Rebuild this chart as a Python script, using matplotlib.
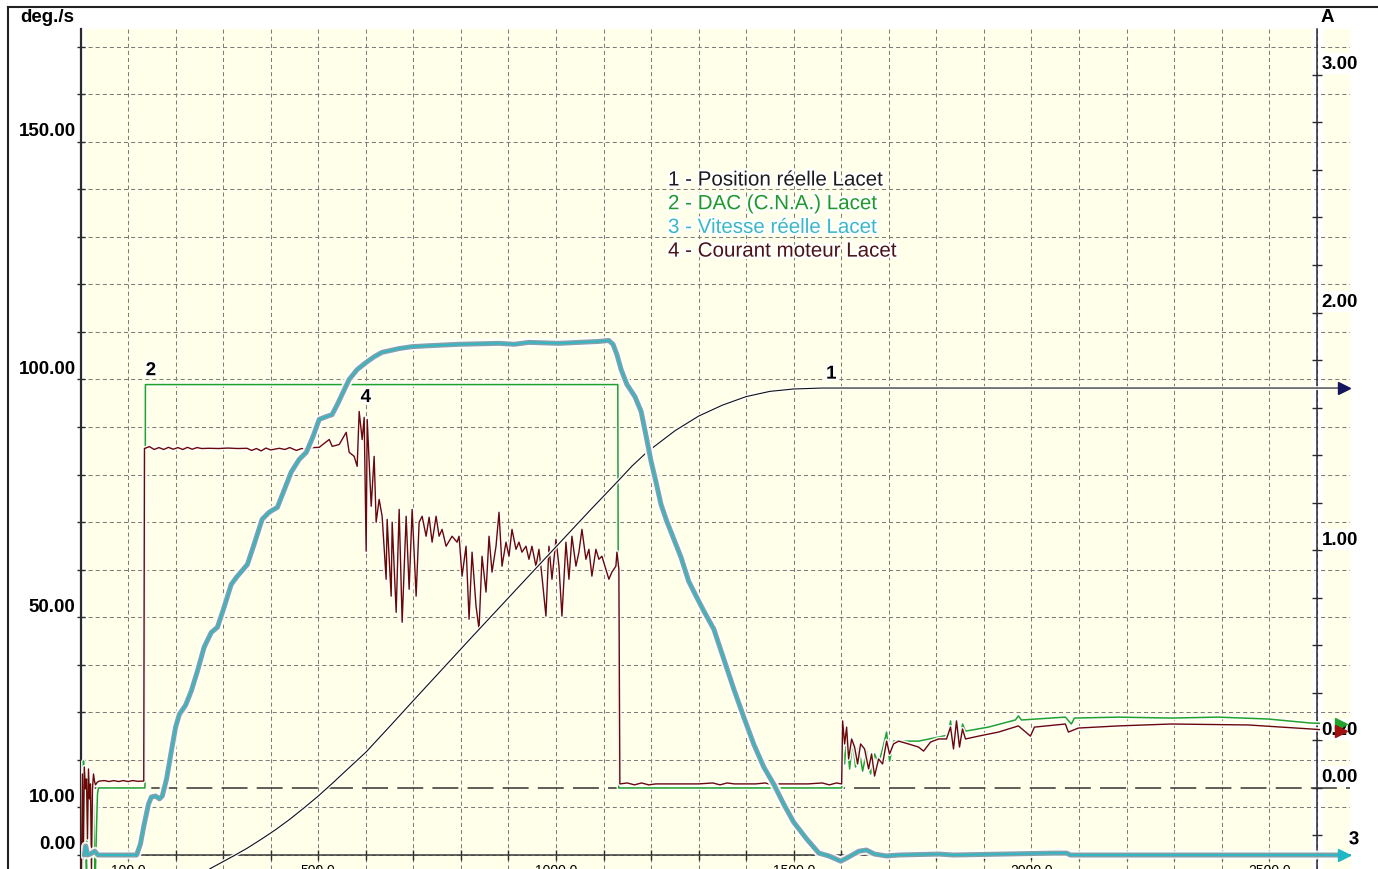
import matplotlib
matplotlib.use("Agg")
import matplotlib.pyplot as plt
import matplotlib.patheffects as pe
from matplotlib.lines import Line2D
import numpy as np

plt.rcParams['font.family'] = ['Liberation Sans', 'DejaVu Sans']

W, H, DPI = 1378, 870, 100

# ---------------------------------------------------------------- data
# time in ms, shared by all four channels

# 1 - Position reelle Lacet (deg)
pos_t = [272, 296, 320, 350, 380, 410, 440, 470, 500, 530, 560, 600, 650, 703,
         821, 943, 1069, 1132, 1160, 1191, 1250, 1300, 1350, 1400, 1450, 1500,
         1560, 2658]
pos_v = [-2.9, -1.6, -0.3, 1.4, 3.3, 5.3, 7.5, 9.9, 12.4, 15.1, 17.9, 21.6,
         27.0, 32.8, 45.6, 58.7, 72.2, 78.8, 81.8, 84.7, 89.2, 92.3, 94.6,
         96.4, 97.5, 98.0, 98.2, 98.2]

# 3 - Vitesse reelle Lacet (deg/s)
vel_t = [8, 11, 15, 24, 30, 37, 118, 126, 134, 143, 149, 158, 166, 172, 181,
         191, 200, 208, 221, 233, 246, 260, 275, 288, 302, 317, 328, 351, 365,
         382, 397, 414, 429, 443, 460, 475, 489, 502, 517, 529, 540, 548, 565,
         582, 601, 618, 634, 670, 697, 733, 796, 880, 912, 943, 1006, 1048,
         1090, 1111, 1120, 1128, 1137, 1149, 1166, 1179, 1189, 1200, 1210, 1221,
         1233, 1248, 1263, 1279, 1296, 1311, 1332, 1353, 1374, 1395, 1416, 1437,
         1458, 1479, 1500, 1527, 1553, 1574, 1599, 1616, 1637, 1653, 1670, 1695,
         1721, 1805, 1836, 2046, 2074, 2082, 2658]
vel_v = [0, 1.9, 0, 0.4, 0.8, 0, 0, 2.3, 6.5, 10.7, 12.2, 12.4, 11.8, 12.4,
         16.0, 21.8, 26.9, 29.6, 31.5, 34.5, 38.7, 43.7, 46.8, 47.9, 52.1, 56.9,
         58.4, 61.1, 65.3, 70.6, 72.1, 73.1, 76.9, 80.5, 83.2, 84.7, 88.0, 91.6,
         92.2, 92.6, 94.7, 96.4, 100.0, 102.1, 103.6, 104.8, 105.7, 106.5, 106.9,
         107.1, 107.4, 107.6, 107.4, 107.8, 107.6, 107.8, 108.0, 108.2, 107.4,
         105.3, 102.1, 99.0, 96.4, 93.3, 88.4, 82.8, 78.6, 73.7, 70.2, 66.4, 62.6,
         57.6, 54.2, 51.3, 47.5, 41.2, 34.9, 29.0, 23.3, 18.5, 14.9, 10.7, 6.9,
         3.4, 0.4, -0.2, -1.3, -0.4, 0.8, 1.05, 0.2, -0.2, 0, 0.2, 0, 0.4, 0.4,
         0, 0]

# 2 - DAC (C.N.A.) Lacet (A)
dac_t = [2, 4.2, 6.3, 8.4, 10.5, 12.6, 14.7, 16.8, 18.9, 21, 23.1, 25.2, 27.3,
         29.4, 31.5, 33.6, 35.7, 37.8, 135.5, 136.5, 1130, 1132, 1600.8, 1602.9,
         1607.1, 1611.3, 1617.6, 1623.9, 1630.2, 1636.6, 1645.0, 1653.3, 1661.7,
         1670.1, 1678.5, 1686.9, 1695.4, 1701.6, 1710.0, 1720.6, 1762.6, 1804.6,
         1825.6, 1829.8, 1836.1, 1842.4, 1848.7, 1855.0, 1861.3, 1909.6, 1966.3,
         1972.6, 1978.9, 2071.4, 2084.0, 2090.3, 2182.7, 2294.1, 2392.8, 2497.9,
         2588.2, 2652]
dac_a = [-0.34, -0.34, 0.113, -0.004, -0.235, -0.34, -0.046, 0.059, -0.046,
         -0.298, -0.34, -0.088, -0.067, -0.34, -0.34, -0.172, -0.025, 0, 0,
         1.697, 1.697, 0, 0, 0.185, 0.101, 0.227, 0.080, 0.197, 0.088, 0.172,
         0.071, 0.155, 0.059, 0.143, 0.101, 0.164, 0.235, 0.113, 0.197, 0.197,
         0.197, 0.214, 0.223, 0.282, 0.176, 0.286, 0.176, 0.269, 0.239, 0.256,
         0.286, 0.303, 0.286, 0.298, 0.269, 0.294, 0.298, 0.294, 0.298, 0.290,
         0.273, 0.269]

# 4 - Courant moteur Lacet (A)
cur_t = [2, 4, 6, 8, 10.5, 12.6, 14.7, 16.8, 18.9, 21, 23.1, 25.2, 27.3, 29.4,
         31.5, 35.7, 40, 50, 60, 70, 80, 90, 100, 110, 120, 133, 134.5,
         145, 155, 165, 175, 185, 195, 205, 215, 225, 235, 245, 255, 270, 290,
         310, 330, 350, 360, 370, 380, 390, 400, 418, 430, 440, 454, 465, 477,
         490, 502, 523.1, 529.4, 544.1, 558.8, 565.1, 575.6, 581.9, 586.1,
         592.4, 596.6, 600.8, 603.0, 611.4, 617.6, 621.8, 628.1, 634.4, 642.8,
         644.9, 653.4, 655.5, 663.9, 670.2, 676.5, 684.9, 691.2, 697.5, 705.9,
         712.2, 718.5, 726.9, 733.2, 739.5, 747.9, 754.2, 760.5, 768.9, 781.5,
         792.0, 796.2, 802.5, 810.9, 817.2, 823.5, 831.9, 838.2, 844.5, 852.9,
         859.2, 865.5, 873.9, 880.2, 886.5, 894.9, 901.2, 907.5, 915.9, 922.2,
         928.5, 936.9, 943.2, 949.5, 957.9, 964.2, 970.5, 978.9, 985.2, 991.6,
         1000.0, 1006.3, 1012.6, 1021.0, 1027.3, 1033.6, 1042.0, 1048.3, 1054.6,
         1063.0, 1069.3, 1075.6, 1084.0, 1090.3, 1096.6, 1105.0, 1111.3, 1117.6,
         1126.0, 1128.2, 1132.3, 1134.4, 1150, 1165, 1180, 1195, 1210, 1250,
         1300, 1330, 1345, 1360, 1375, 1420, 1440, 1455, 1470, 1530, 1560, 1575,
         1590, 1600.8, 1602.9, 1607.1, 1611.3, 1615.5, 1621.8, 1628.1, 1634.4,
         1640.7, 1649.1, 1657.5, 1663.8, 1670.1, 1678.5, 1686.9, 1695.4, 1701.6,
         1710.0, 1720.6, 1741.6, 1762.6, 1773.1, 1787.8, 1804.6, 1821.4, 1829.8,
         1836.1, 1842.4, 1848.7, 1855.0, 1861.3, 1888.6, 1930.6, 1972.6, 1997.9,
         2006.3, 2071.4, 2077.7, 2098.7, 2182.7, 2294.1, 2455.9, 2588.2, 2652]
cur_a = [-0.34, 0.059, -0.298, 0.088, -0.004, 0.038, -0.214, 0.080, -0.046,
         0.017, -0.340, -0.004, 0.059, 0.029, 0.013, 0.025, 0.029, 0.031, 0.027,
         0.031, 0.027, 0.031, 0.027, 0.031, 0.028, 0.029, 1.428,
         1.436, 1.424, 1.432, 1.424, 1.433, 1.425, 1.432, 1.424, 1.433, 1.425,
         1.432, 1.428, 1.429, 1.428, 1.430, 1.428, 1.429, 1.420, 1.428, 1.418,
         1.430, 1.422, 1.429, 1.424, 1.432, 1.420, 1.428, 1.424, 1.432, 1.433,
         1.466, 1.437, 1.445, 1.496, 1.412, 1.395, 1.353, 1.584, 1.466, 1.559,
         0.996, 1.550, 1.185, 1.395, 1.118, 1.214, 1.143, 0.878, 1.130, 0.807,
         1.118, 0.739, 1.172, 0.697, 1.143, 0.836, 1.172, 0.807, 1.118, 1.143,
         1.059, 1.139, 1.034, 1.143, 1.059, 1.088, 1.017, 1.059, 1.034, 1.059,
         0.891, 1.017, 0.710, 0.992, 0.765, 0.668, 0.975, 0.824, 1.059, 0.908,
         1.017, 1.160, 0.933, 1.034, 0.975, 1.088, 1.004, 1.034, 0.992, 1.017,
         0.962, 1.017, 0.933, 1.004, 0.891, 0.723, 1.017, 0.878, 1.046, 0.933,
         0.723, 1.034, 0.878, 1.059, 0.933, 0.992, 1.088, 0.962, 1.004, 0.891,
         1.004, 0.962, 0.975, 0.920, 0.878, 0.908, 0.933, 0.992, 0.920, 0.017,
         0.021, 0.013, 0.021, 0.013, 0.017, 0.017, 0.017, 0.021, 0.013, 0.021,
         0.017, 0.017, 0.021, 0.013, 0.017, 0.017, 0.021, 0.013, 0.021, 0.017,
         0.282, 0.185, 0.256, 0.122, 0.206, 0.172, 0.101, 0.185, 0.164, 0.080,
         0.143, 0.050, 0.122, 0.101, 0.197, 0.143, 0.185, 0.197, 0.185, 0.172,
         0.155, 0.193, 0.206, 0.206, 0.256, 0.164, 0.282, 0.172, 0.248, 0.206,
         0.218, 0.235, 0.261, 0.218, 0.256, 0.269, 0.235, 0.252, 0.261, 0.269,
         0.265, 0.248, 0.239]

# axis ticks / labels
x_grid = np.arange(0, 2601, 100)
x_labels = {100: "100.0", 500: "500.0", 1000: "1000.0", 1500: "1500.0",
            2000: "2000.0", 2500: "2500.0"}
left_grid = np.arange(0, 171, 10)
left_labels = [0, 10, 50, 100, 150]
right_ticks = np.round(np.arange(-0.2, 3.01, 0.2), 2)
right_labels = [0.0, 0.2, 1.0, 2.0, 3.0]

legend_items = ["1 - Position réelle Lacet", "2 - DAC (C.N.A.) Lacet",
                "3 - Vitesse réelle Lacet", "4 - Courant moteur Lacet"]

# colours
C_BG = '#FFFFEA'
C_GRID = '#7d7d7d'
C_AXIS = '#2a2a2a'
C_POS = '#101010'
C_POS_ARROW = '#16165e'
C_DAC = '#22a22c'
C_VEL = '#36b5c5'
C_VEL_EDGE = '#86a0a5'
C_CUR = '#6a0808'
C_CUR_ARROW = '#a01010'
legend_colors = ['#1c1c1c', '#1f9a2a', '#3ab8c6', '#4a1414']

# ---------------------------------------------------------------- layout
fig = plt.figure(figsize=(W / DPI, H / DPI), dpi=DPI)
fig.patch.set_facecolor('white')


def fx(px):
    return px / W


def fy(py):
    return 1 - py / H


rect = [fx(80.5), 0.0, fx(1350) - fx(80.5), 1 - 30 / H]
XLIM = (0, 2670)
YLIM_DEG = (-2.94, 173.7)
YLIM_AMP = (-0.341, 3.193)

halo_txt = [pe.withStroke(linewidth=3.5, foreground='white')]
bold = dict(fontsize=13.5, fontweight='bold', color='black')


def halo(w):
    return [pe.Stroke(linewidth=w, foreground='white', alpha=0.9), pe.Normal()]


# background layer: yellow field, grid, left axis and time axis
bg = fig.add_axes(rect)
bg.set_zorder(0)
bg.set_facecolor(C_BG)
bg.set_xlim(*XLIM)
bg.set_ylim(*YLIM_DEG)
bg.set_axisbelow(True)
bg.set_xticks(x_grid, labels=[x_labels.get(int(v), "") for v in x_grid],
              fontsize=13.5, fontweight='bold')
bg.set_yticks(left_grid)
bg.grid(True, color=C_GRID, linewidth=0.75, linestyle=(0, (3.9, 2.9)))
for s in ('top', 'right'):
    bg.spines[s].set_visible(False)
bg.spines['left'].set_linewidth(1.6)
bg.spines['left'].set_color(C_AXIS)
bg.spines['bottom'].set_position(('data', 0))
bg.spines['bottom'].set_linewidth(1.1)
bg.spines['bottom'].set_color('#3a3a3a')
bg.tick_params(axis='y', direction='inout', length=6, width=1.0,
               color=C_AXIS, labelleft=False)
bg.tick_params(axis='x', direction='inout', length=7, width=1.0,
               color=C_AXIS, pad=2.0)
bg.axvspan(0, 10, color='white', zorder=0.2, lw=0)
bg.axvspan(2590, 2615, color='white', zorder=0.2, lw=0)

for v in left_labels:
    bg.annotate(f"{v:.2f}", xy=(0, v), xytext=(-3.6, 8), textcoords='offset points',
                ha='right', va='center', annotation_clip=False, **bold)

# current axis (A): DAC and motor current
ax2 = fig.add_axes(rect, sharex=bg)
ax2.set_zorder(1)
ax2.patch.set_visible(False)
ax2.set_ylim(*YLIM_AMP)
for s in ('top', 'left', 'bottom'):
    ax2.spines[s].set_visible(False)
ax2.spines['right'].set_position(('data', 2600))
ax2.spines['right'].set_linewidth(1.1)
ax2.spines['right'].set_color(C_AXIS)
ax2.yaxis.tick_right()
ax2.set_yticks(right_ticks)
ax2.tick_params(axis='y', direction='inout', length=6.5, width=1.0,
                color=C_AXIS, labelright=False, labelleft=False)
ax2.tick_params(axis='x', bottom=False, labelbottom=False, top=False)

ax2.axhline(0, color='#333333', lw=1.1, ls=(0, (17, 6)), zorder=2)
ax2.plot(dac_t, dac_a, color=C_DAC, lw=1.1, path_effects=halo(3.2), zorder=3)
ax2.plot(cur_t, cur_a, color=C_CUR, lw=1.0, path_effects=halo(3.2), zorder=4)

for v in right_labels:
    ax2.annotate(f"{v:.2f}", xy=(2600, v), xytext=(3.6, 8),
                 textcoords='offset points', ha='left', va='center',
                 annotation_clip=False, zorder=5,
                 bbox=dict(boxstyle='square,pad=0.1', fc='white', ec='none'),
                 **bold)

ax2.plot(dac_t[-1], dac_a[-1], marker='>', ms=9, color=C_DAC, mec=C_DAC,
         clip_on=False, zorder=7)
ax2.plot(cur_t[-1], cur_a[-1], marker='>', ms=9, color=C_CUR_ARROW,
         mec=C_CUR_ARROW, clip_on=False, zorder=7)

ax2.annotate("2", xy=(148, dac_a[19]), xytext=(0, 10), textcoords='offset points',
             ha='center', va='center', path_effects=halo_txt, zorder=8, **bold)
ax2.annotate("4", xy=(600, max(cur_a)), xytext=(0, 10), textcoords='offset points',
             ha='center', va='center', path_effects=halo_txt, zorder=8, **bold)

# speed / position axis (deg/s)
ax = fig.add_axes(rect, sharex=bg, sharey=bg)
ax.set_zorder(2)
ax.patch.set_visible(False)
ax.axis('off')

ax.plot(pos_t, pos_v, color=C_POS, lw=0.8, path_effects=halo(2.8), zorder=3)
ax.plot(vel_t, vel_v, color=C_VEL, lw=1.5, solid_capstyle='round',
        path_effects=[pe.Stroke(linewidth=6.5, foreground='white', alpha=0.9),
                      pe.Stroke(linewidth=3.6, foreground=C_VEL_EDGE),
                      pe.Normal()], zorder=4)
ax.plot(pos_t[-1], pos_v[-1], marker='>', ms=9, color=C_POS_ARROW,
        mec=C_POS_ARROW, clip_on=False, zorder=6)
ax.plot(vel_t[-1], vel_v[-1], marker='>', ms=9, color='#1fb8c4', mec='#1fb8c4',
        clip_on=False, zorder=6)

ax.annotate("1", xy=(1579, pos_v[-1]), xytext=(0, 10), textcoords='offset points',
            ha='center', va='center', path_effects=halo_txt, zorder=8, **bold)
ax.annotate("3", xy=(vel_t[-1], vel_v[-1]), xytext=(7, 11),
            textcoords='offset points', ha='center', va='center',
            annotation_clip=False, path_effects=halo_txt, zorder=8, **bold)

# legend block
for i, (txt, col) in enumerate(zip(legend_items, legend_colors)):
    fig.text(fx(668), fy(181 + 23.7 * i), txt, ha='left', va='center',
             fontsize=14.8, color=col, path_effects=halo_txt)

# unit captions
fig.text(fx(47), fy(17), "deg./s", ha='center', va='center', **bold)
fig.text(fx(1327), fy(17), "A", ha='center', va='center', **bold)

# window frame
fig.add_artist(Line2D([fx(8), fx(8)], [fy(8), 0], transform=fig.transFigure,
                      color='#222222', lw=1.5))
fig.add_artist(Line2D([fx(8), 1], [fy(8), fy(8)], transform=fig.transFigure,
                      color='#222222', lw=1.5))

fig.savefig('out.png', dpi=DPI, facecolor='white')
